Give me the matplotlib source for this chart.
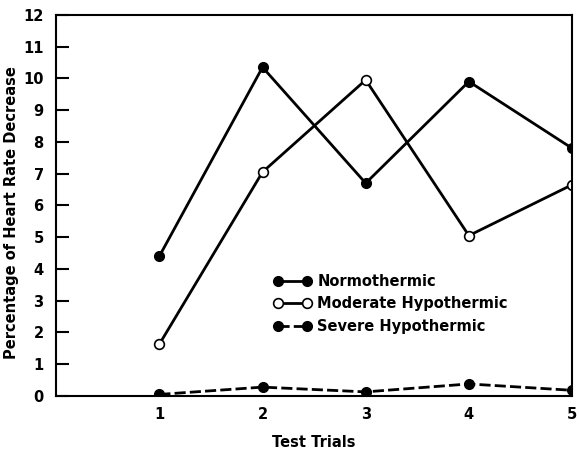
import matplotlib
matplotlib.use("Agg")
import matplotlib.pyplot as plt

trials = [1, 2, 3, 4, 5]
normothermic = [4.4, 10.35, 6.7, 9.9, 7.8]
moderate = [1.63, 7.05, 9.95, 5.05, 6.65]
severe = [0.05, 0.28, 0.13, 0.38, 0.18]
yticks = list(range(0, 13))
xticks = [1, 2, 3, 4, 5]

plt.rcParams['font.family'] = ['DejaVu Sans']
fig = plt.figure(figsize=(5.79, 4.49), dpi=100)
ax = fig.add_axes([0.097, 0.118, 0.891, 0.849])

lw = 2.0
ax.plot(trials, normothermic, '-', color='black', lw=lw, marker='o', ms=7,
        mfc='black', mec='black', label='Normothermic')
ax.plot(trials, moderate, '-', color='black', lw=lw, marker='o', ms=7,
        mfc='white', mec='black', mew=1.2, label='Moderate Hypothermic')
ax.plot(trials, severe, '--', color='black', lw=lw, marker='o', ms=7,
        mfc='black', mec='black', dashes=(4, 1.5), label='Severe Hypothermic')

ax.set_xlim(0, 5)
ax.set_ylim(0, 12)
ax.set_yticks(yticks)
ax.set_yticklabels([str(v) for v in yticks], fontsize=10.5, fontweight='bold')
ax.set_xticks(xticks)
ax.set_xticklabels([str(v) for v in xticks], fontsize=10.5, fontweight='bold')
ax.tick_params(axis='y', direction='in', length=9, width=1.5, pad=9)
ax.tick_params(axis='x', length=0, pad=8)
for s in ax.spines.values():
    s.set_linewidth(1.5)

ax.set_xlabel('Test Trials', fontsize=10.5, fontweight='bold', labelpad=9)
ax.set_ylabel('Percentage of Heart Rate Decrease', fontsize=10.5,
              fontweight='bold', labelpad=0)
ax.yaxis.set_label_coords(-0.072, 0.48)

leg = ax.legend(loc='upper left', bbox_to_anchor=(0.41, 0.335), frameon=False,
                numpoints=2, handlelength=2.6, handletextpad=0.4,
                labelspacing=0.5, fontsize=10.5, borderaxespad=0)
for t in leg.get_texts():
    t.set_fontweight('bold')

fig.savefig('out.png', dpi=100)
